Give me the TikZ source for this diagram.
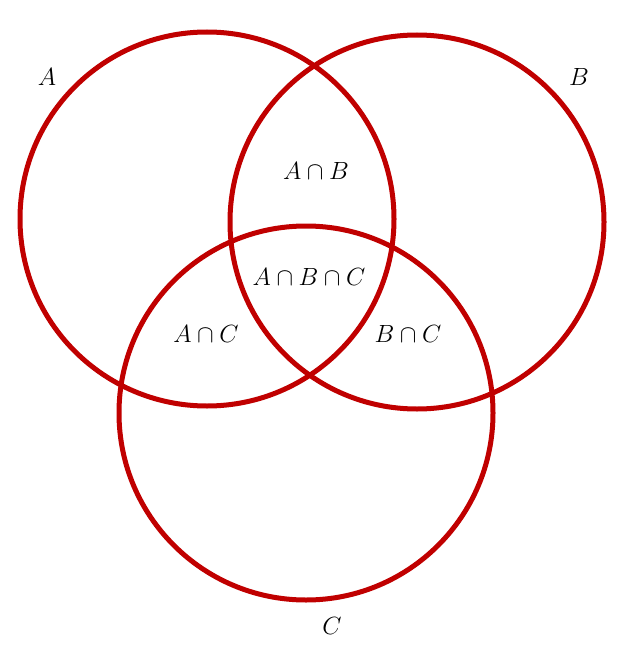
\documentclass[tikz,border=0pt]{standalone}
\usepackage{amsmath}
\definecolor{vennred}{RGB}{192,0,0}
\tikzset{
  venn/.style={draw=vennred, line width=5pt},
  lbl/.style={font=\fontsize{23}{27}\selectfont, inner sep=0pt}
}
\begin{document}
\begin{tikzpicture}[x=1pt,y=-1pt]
\useasboundingbox (0,0) rectangle (632,658);
\node[venn, circle, minimum size=374pt, inner sep=0pt] (cA) at (207,219) {};
\node[venn, circle, minimum size=374pt, inner sep=0pt] (cB) at (417,222) {};
\node[venn, circle, minimum size=374pt, inner sep=0pt] (cC) at (306,413) {};
\node[lbl] (lA) at (47,77) {$A$};
\node[lbl] (lB) at (579,77) {$B$};
\node[lbl] (lC) at (332,626) {$C$};
\node[lbl] (lAB) at (316,171) {$A\cap B$};
\node[lbl] (lABC) at (309,277) {$A\cap B\cap C$};
\node[lbl] (lAC) at (206,334) {$A\cap C$};
\node[lbl] (lBC) at (408,334) {$B\cap C$};
\end{tikzpicture}
\end{document}
